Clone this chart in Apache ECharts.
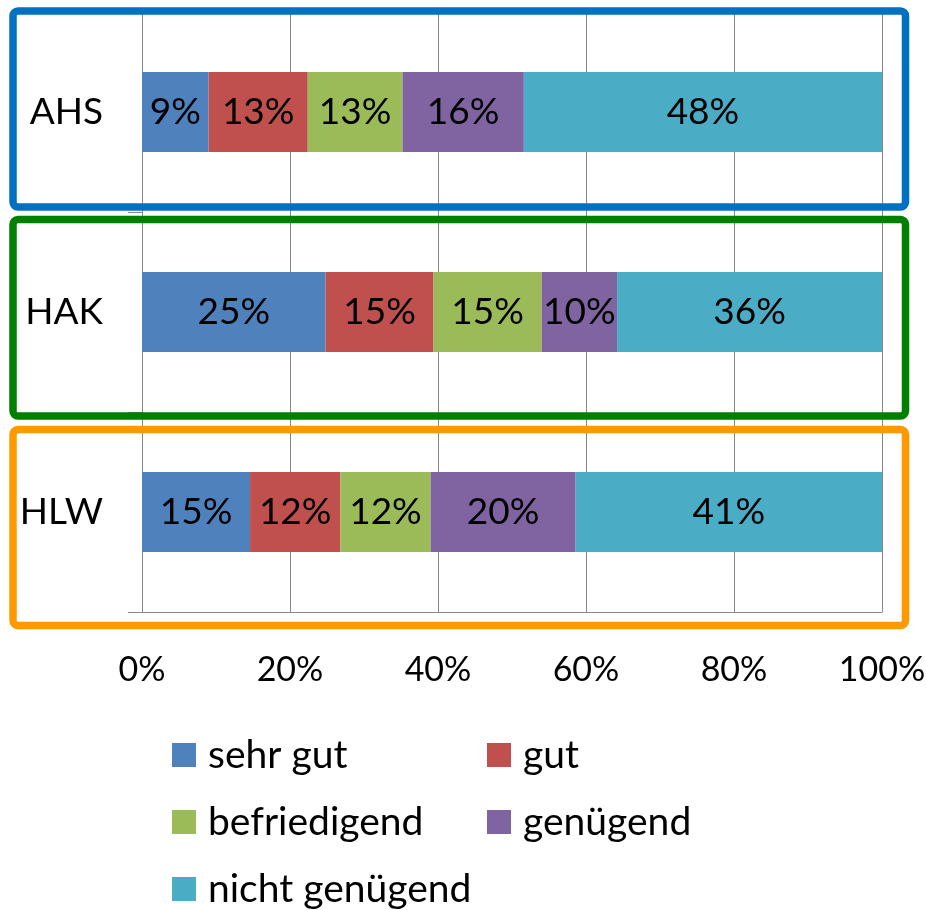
<!DOCTYPE html>
<html>
<head>
<meta charset="utf-8">
<script src="https://cdn.jsdelivr.net/npm/echarts@6/dist/echarts.min.js"></script>
<style>
  html, body { margin: 0; padding: 0; background: #fff; }
  #chart { width: 926px; height: 910px; }
</style>
</head>
<body>
<div id="chart"></div>
<script>
const schools = ['AHS', 'HAK', 'HLW']
const grades = ['sehr gut', 'gut', 'befriedigend', 'genügend', 'nicht genügend']
const sehrGut = [9.0, 24.8, 14.6]
const gut = [13.4, 14.6, 12.2]
const befriedigend = [12.8, 14.6, 12.2]
const genuegend = [16.4, 10.2, 19.6]
const nichtGenuegend = [48.4, 35.8, 41.4]
const xTicks = [0, 20, 40, 60, 80, 100]

const colors = ['#4F81BD', '#C0504D', '#9BBB59', '#8064A2', '#4BACC6']
const font = 'Lato, "Open Sans", sans-serif'
const gray = '#878787'

const values = [sehrGut, gut, befriedigend, genuegend, nichtGenuegend]

const series = grades.map((name, i) => ({
  name,
  type: 'bar',
  stack: 'total',
  barWidth: 80,
  data: values[i],
  itemStyle: { color: colors[i] },
  label: {
    show: true,
    position: 'inside',
    color: '#000',
    fontFamily: font,
    fontSize: 37,
    formatter: (p) => Math.round(p.value) + '%'
  }
}))

// coloured frames round each school row
const frames = [
  { y: 11, h: 196, color: '#0070C0' },
  { y: 219.5, h: 196.5, color: '#008000' },
  { y: 429.5, h: 196, color: '#FF9900' }
].map((f) => ({
  type: 'rect',
  z: 100,
  shape: { x: 13, y: f.y, width: 892.5, height: f.h, r: 5 },
  style: { fill: 'none', stroke: f.color, lineWidth: 7.5 }
}))

const legendText = { color: '#000', fontFamily: font, fontSize: 39, lineHeight: 44, padding: [0, 0, 0, 7] }

function legendColumn(items, left) {
  return {
    data: items,
    orient: 'vertical',
    left,
    top: 733,
    height: 200,
    padding: 0,
    itemWidth: 24,
    itemHeight: 24,
    itemGap: 23,
    icon: 'rect',
    textStyle: legendText,
    selectedMode: false
  }
}

const chart = echarts.init(document.getElementById('chart'))
chart.setOption({
  animation: false,
  backgroundColor: '#fff',
  color: colors,
  grid: { left: 142, right: 44, top: 12, bottom: 298, outerBoundsMode: 'none' },
  legend: [
    legendColumn([grades[0], grades[2], grades[4]], 172),
    legendColumn([grades[1], grades[3]], 487)
  ],
  xAxis: {
    type: 'value',
    min: xTicks[0],
    max: xTicks[xTicks.length - 1],
    interval: xTicks[1] - xTicks[0],
    axisLine: { show: true, lineStyle: { color: gray, width: 1 } },
    axisTick: { show: false },
    splitLine: { show: true, lineStyle: { color: gray, width: 1 } },
    axisLabel: {
      color: '#000',
      fontFamily: font,
      fontSize: 34,
      margin: 41,
      formatter: '{value}%'
    }
  },
  yAxis: {
    type: 'category',
    inverse: true,
    data: schools,
    axisLine: { show: true, lineStyle: { color: gray, width: 1 } },
    axisTick: { show: true, length: 14, lineStyle: { color: gray } },
    splitLine: { show: false },
    axisLabel: {
      color: '#000',
      fontFamily: font,
      fontSize: 37,
      margin: 39
    }
  },
  graphic: frames,
  series
})
</script>
</body>
</html>
